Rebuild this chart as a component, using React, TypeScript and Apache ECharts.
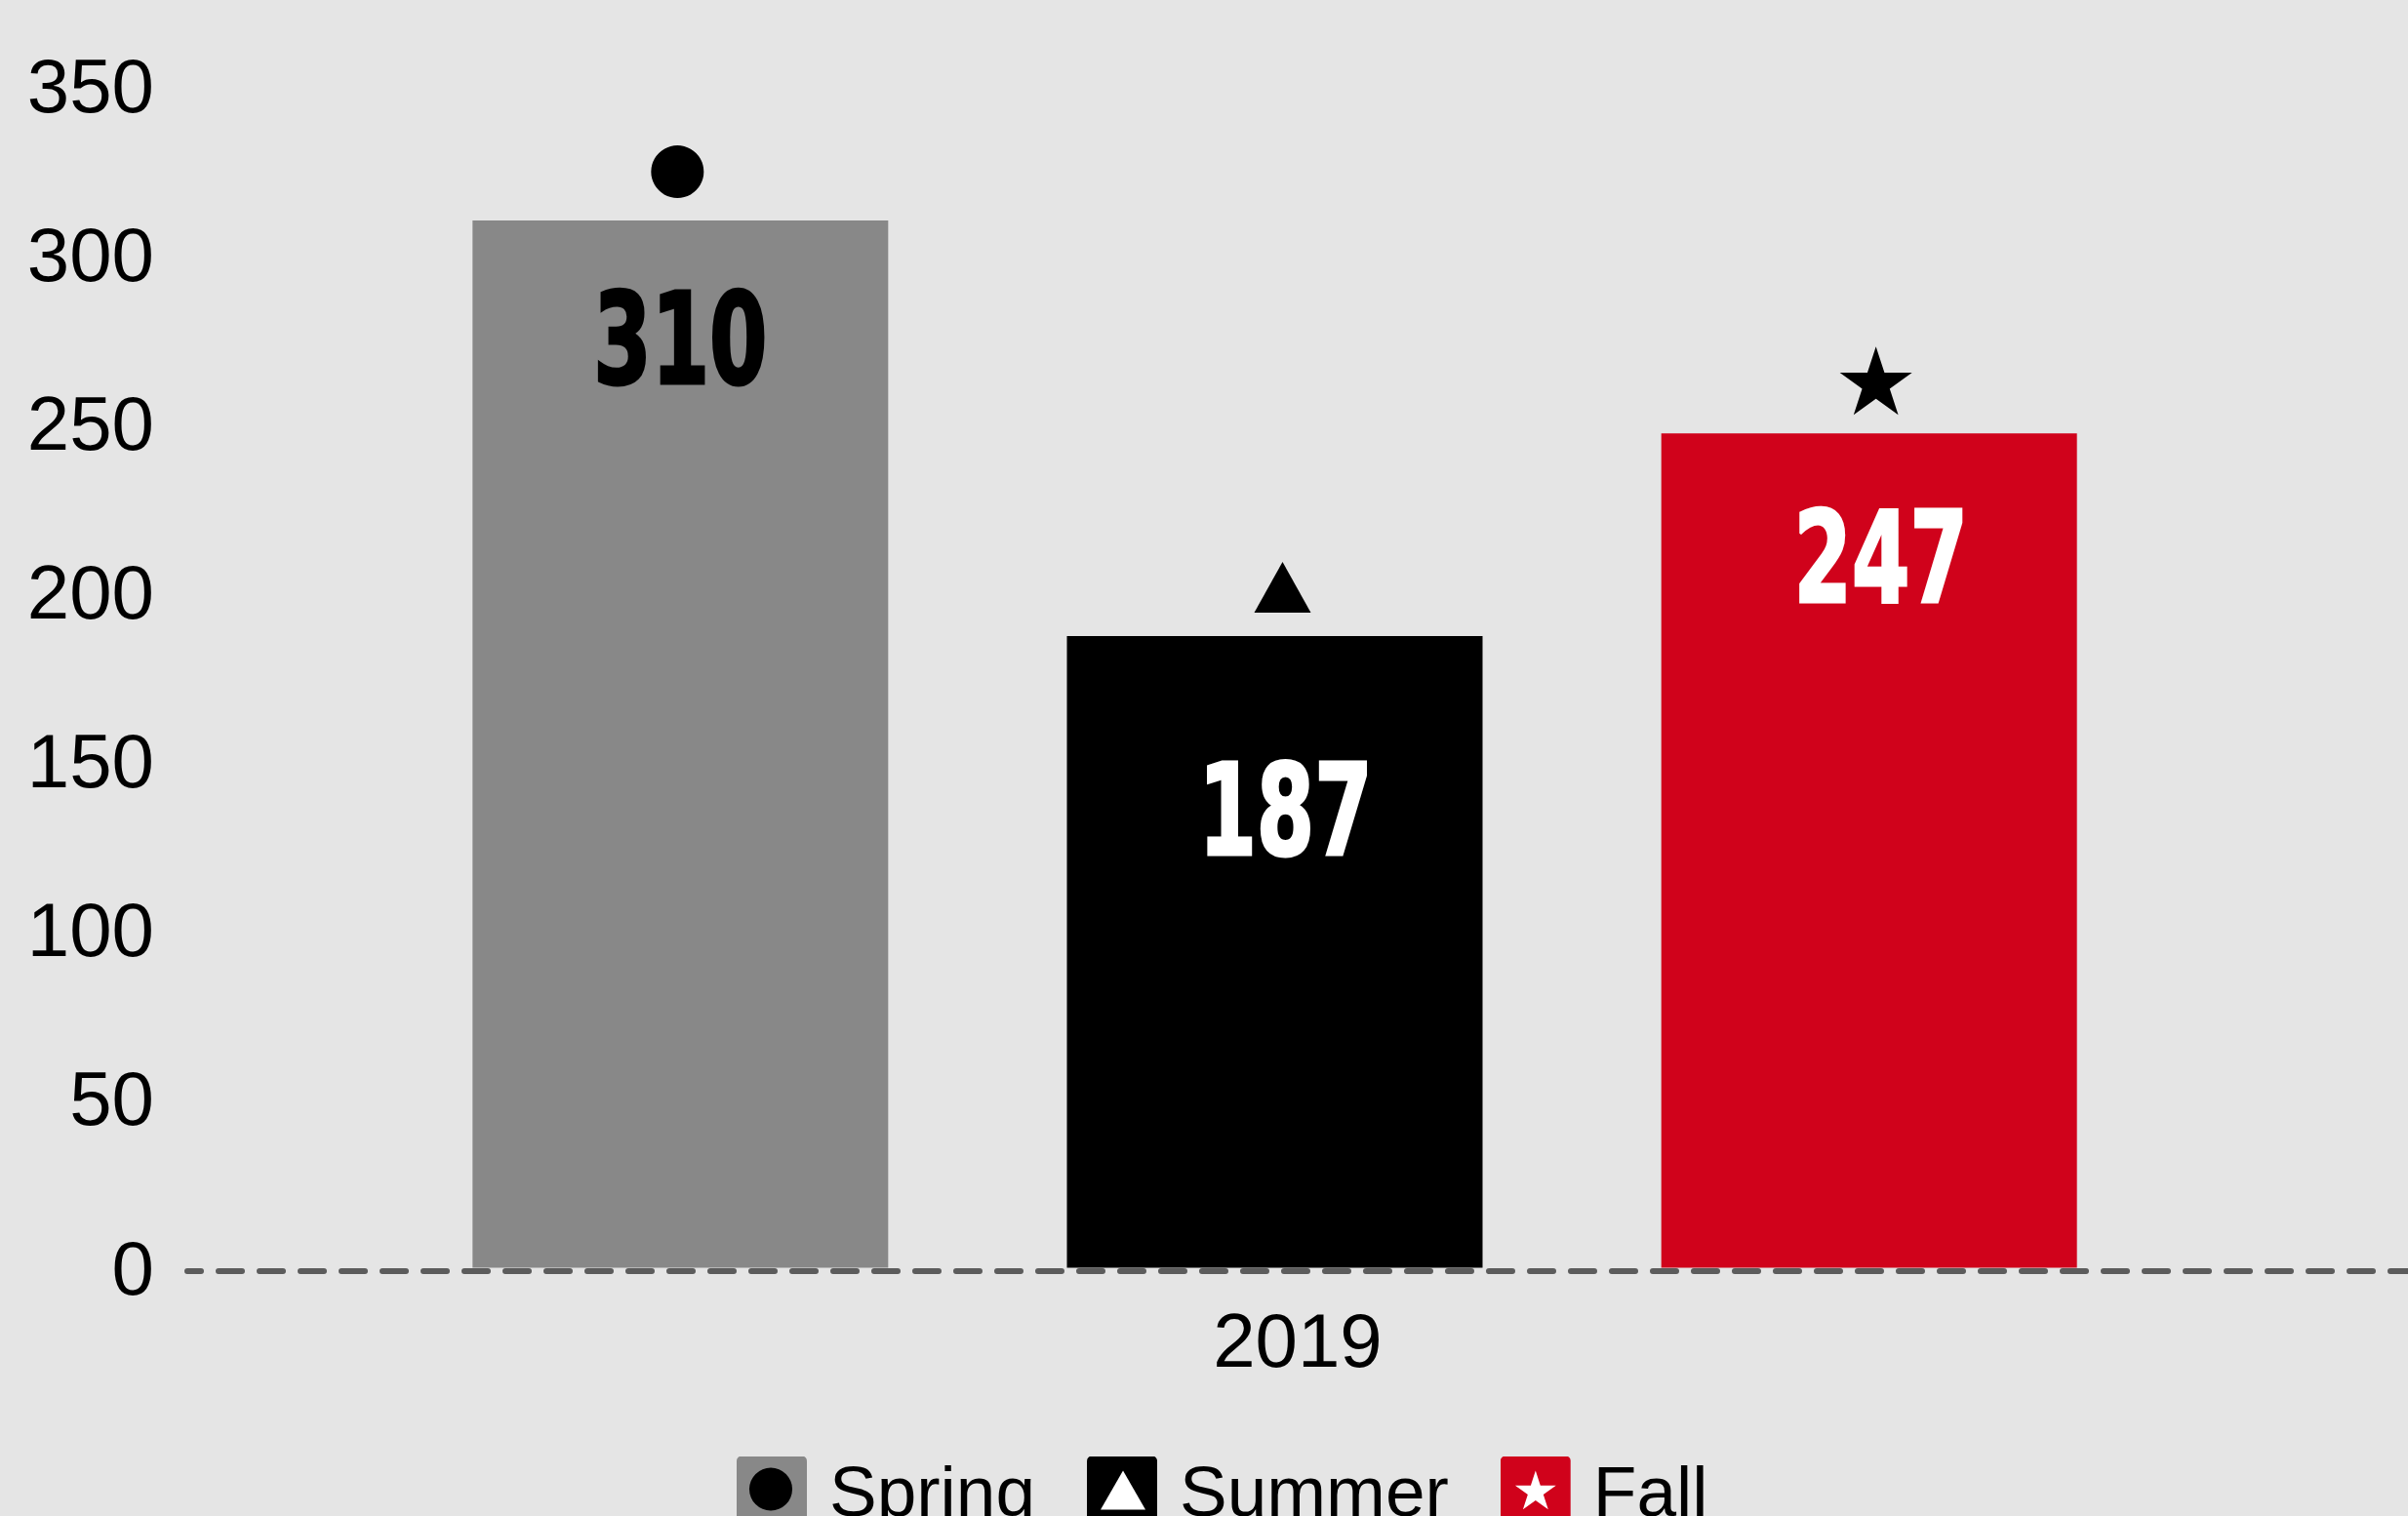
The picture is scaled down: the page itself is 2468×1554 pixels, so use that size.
import React, { useEffect, useRef } from 'react';
import * as echarts from 'echarts';

const categories = ['2019'];
const seriesNames = ['Spring', 'Summer', 'Fall'];
const springValues = [310];
const summerValues = [187];
const fallValues = [247];
const yMin = 0;
const yMax = 350;
const yInterval = 50;

const GRAY = '#888888';
const BLACK = '#000000';
const RED = '#d0021b';
const BG = '#e5e5e5';

const LABEL_SCALE_X = 0.73;

function starPath(cx: number, cy: number, R: number): string {
  let d = '';
  for (let k = 0; k < 10; k++) {
    const ang = ((-90 + 36 * k) * Math.PI) / 180;
    const rad = k % 2 ? R * 0.382 : R;
    const x = cx + rad * Math.cos(ang);
    const y = cy + rad * Math.sin(ang);
    d += (k ? 'L' : 'M') + x.toFixed(2) + ',' + y.toFixed(2);
  }
  return d + 'Z';
}

function svgIcon(inner: string, fill: string): string {
  const svg =
    "<svg xmlns='http://www.w3.org/2000/svg' width='72' height='72' viewBox='0 0 72 72'>" +
    "<rect x='0' y='0' width='72' height='72' rx='5' ry='5' fill='" + fill + "'/>" +
    inner +
    '</svg>';
  return 'image://data:image/svg+xml;charset=utf-8,' + encodeURIComponent(svg);
}

const legendIcons = [
  svgIcon("<circle cx='35' cy='34' r='22' fill='#000000'/>", GRAY),
  svgIcon("<polygon points='37,15 14,55 60,55' fill='#ffffff'/>", BLACK),
  svgIcon("<path d='" + starPath(36, 37, 22) + "' fill='#ffffff'/>", RED),
];

const STAR_SYMBOL = 'path://' + starPath(50, 50, 50);

export default function App() {
  const ref = useRef<HTMLDivElement>(null);

  useEffect(() => {
    document.body.style.margin = '0';
    if (!ref.current) return;
    const chart = echarts.init(ref.current, undefined, { renderer: 'svg' });

    const labelFont = "'Liberation Sans Narrow', 'DejaVu Sans Condensed', 'Liberation Sans', sans-serif";

    const makeSeries = (
      name: string,
      values: number[],
      color: string,
      labelColor: string,
      labelDy: number,
      labelDx: number,
      symbol: string,
      symbolSize: number | number[],
      symbolOffset: number[]
    ) => ({
      name,
      type: 'bar',
      xAxisIndex: 0,
      yAxisIndex: 0,
      data: values,
      barWidth: 426,
      barGap: '43%',
      itemStyle: { color },
      label: {
        show: true,
        position: ['50%', labelDy],
        offset: [labelDx, 0],
        align: 'center',
        verticalAlign: 'middle',
        formatter: '{c}',
        color: labelColor,
        textBorderColor: labelColor,
        textBorderWidth: 3,
        fontSize: 130,
        fontWeight: 'bold',
        fontFamily: labelFont,
      },
      markPoint: {
        symbol,
        symbolSize,
        symbolOffset,
        itemStyle: { color: '#000000' },
        label: { show: false },
        data: values.map((v, i) => ({ coord: [categories[i], v] })),
      },
    });

    const option: any = {
      animation: false,
      backgroundColor: BG,
      grid: [
        { left: 192, right: 47, top: 87.5, bottom: 254.4 },
        { left: 192, right: -12, top: 87.5, bottom: 251 },
      ],
      xAxis: [
        { type: 'category', gridIndex: 0, data: categories, show: false },
        {
          type: 'category',
          gridIndex: 1,
          data: categories,
          axisLine: {
            show: true,
            lineStyle: { color: '#5c5c5c', width: 6, type: [24, 18], dashOffset: 10 },
          },
          axisTick: { show: false },
          axisLabel: {
            fontSize: 78,
            color: '#000000',
            fontFamily: 'Liberation Sans, Arial, sans-serif',
            margin: 32,
          },
        },
      ],
      yAxis: [
        {
          type: 'value',
          gridIndex: 0,
          min: yMin,
          max: yMax,
          interval: yInterval,
          axisLine: { show: false },
          axisTick: { show: false },
          splitLine: { show: false },
          axisLabel: {
            fontSize: 78,
            color: '#000000',
            fontFamily: 'Liberation Sans, Arial, sans-serif',
            margin: 34,
          },
        },
        { type: 'value', gridIndex: 1, min: yMin, max: yMax, show: false },
      ],
      legend: {
        left: 755,
        top: 1492,
        padding: 0,
        itemWidth: 72,
        itemHeight: 72,
        itemGap: 53,
        selectedMode: false,
        textStyle: {
          fontSize: 73,
          color: '#000000',
          fontFamily: 'Liberation Sans, Arial, sans-serif',
          padding: [0, 0, 0, 18],
        },
        data: seriesNames.map((n, i) => ({ name: n, icon: legendIcons[i] })),
      },
      series: [
        makeSeries(seriesNames[0], springValues, GRAY, '#000000', 122, 0, 'circle', 54, [-3, -50]),
        makeSeries(seriesNames[1], summerValues, BLACK, '#ffffff', 179, 11, 'triangle', [58, 52], [8, -50]),
        makeSeries(seriesNames[2], fallValues, RED, '#ffffff', 128, 12, STAR_SYMBOL, [74, 70], [7, -54]),
      ],
    };

    chart.setOption(option);

    // Condense the bar value labels horizontally (no narrow bold font is installed).
    const valueTexts = [...springValues, ...summerValues, ...fallValues].map(String);
    const condense = () => {
      const root = ref.current;
      if (!root) return;
      root.querySelectorAll('text').forEach((el) => {
        if (!valueTexts.includes((el.textContent || '').trim())) return;
        if (el.getAttribute('data-condensed')) return;
        const t = el.getAttribute('transform') || '';
        const x = parseFloat(el.getAttribute('x') || '0') || 0;
        el.setAttribute(
          'transform',
          (t + ' translate(' + x + ' 0) scale(' + LABEL_SCALE_X + ' 1) translate(' + -x + ' 0)').trim()
        );
        el.setAttribute('data-condensed', '1');
      });
    };
    condense();
    chart.on('finished', condense);

    return () => {
      chart.dispose();
    };
  }, []);

  return (
    <div
      ref={ref}
      style={{ position: 'fixed', left: 0, top: 0, width: 2468, height: 1554 }}
    />
  );
}
